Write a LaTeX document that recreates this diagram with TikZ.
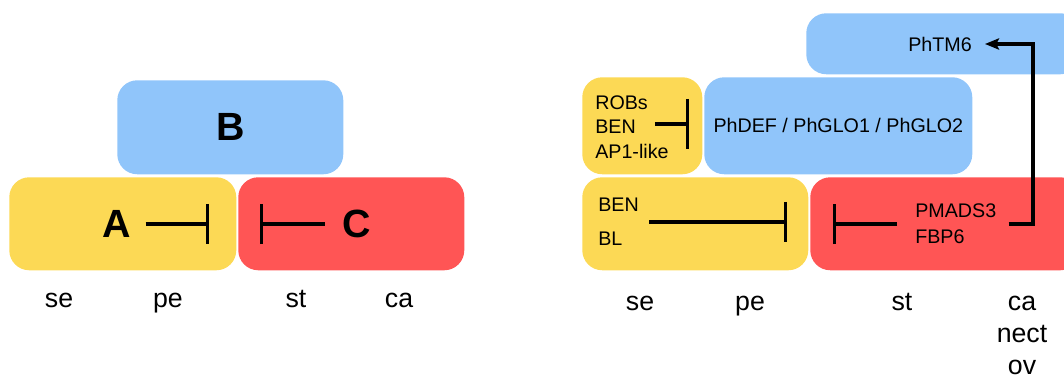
\documentclass[tikz,border=0pt]{standalone}
\usepackage{fontspec}
\setmainfont{Liberation Sans}
\usetikzlibrary{arrows.meta}
\definecolor{yel}{HTML}{FCD955}
\definecolor{blu}{HTML}{90C5FA}
\definecolor{rd}{HTML}{FF5555}
\def\pu{0.025cm}

\begin{document}
\begin{tikzpicture}[x=0.025cm, y=-0.025cm,
  box/.style 2 args={rounded corners=0.5cm, anchor=north west, inner sep=0pt,
    minimum width=#1*\pu, minimum height=#2*\pu},
  inh/.style={-{Bar[width=#1]}, line width=2.2pt},
  inh/.default=1cm,
  act/.style={-{Stealth[length=10pt, width=8pt, inset=2pt]}, line width=2.2pt},
  gene/.style={font=\fontsize{14}{17.4}\selectfont, inner sep=0pt},
  big/.style={font=\fontsize{28}{32}\selectfont\bfseries, inner sep=0pt},
  stage/.style={font=\fontsize{19}{23}\selectfont, anchor=base}]

\clip (0,0) rectangle (1064,379);

% left: ABC model
\node[box={226}{94}, fill=blu, big] (boxB) at (117,80) {B};
\node[box={227}{93}, fill=yel] (boxA) at (9,177) {};
\node[box={226}{93}, fill=rd] (boxC) at (238,177) {};

\node[big] (tA) at (117,224) {A};
\node[big] (tC) at (357,224) {C};
\coordinate (barA) at (209,224);
\coordinate (barC) at (260,224);
\draw[inh, shorten <=14*\pu] (tA.east) -- (barA);
\draw[inh, shorten <=18*\pu] (tC.west) -- (barC);

\foreach \t/\x in {se/59, pe/168, st/296, ca/399}
  \node[stage] (l\t) at (\x,308) {\t};

% right: petunia
\node[box={274}{61}, fill=blu] (boxTM6) at (806,13) {};
\node[box={120}{97}, fill=yel] (boxRob) at (582,77) {};
\node[box={268}{97}, fill=blu, gene] (boxDEF) at (704,77) {PhDEF / PhGLO1 / PhGLO2};
\node[box={226}{93}, fill=yel] (boxBen) at (582,177) {};
\node[box={270}{93}, fill=rd] (boxPM) at (810,177) {};

\node[gene] (tTM6) at (940,44) {PhTM6};
\node[gene, anchor=west, align=left] (tRob) at (595,127) {ROBs\\BEN\\AP1-like};
\node[gene, anchor=west, align=left, font=\fontsize{14}{24.1}\selectfont] (tBen) at (598,222) {BEN\\BL};
\node[gene, anchor=west, align=left, font=\fontsize{14}{18.4}\selectfont] (tPM) at (915,224) {PMADS3\\FBP6};

\coordinate (barRob) at (689,124);
\coordinate (barBen) at (787,222);
\coordinate (barPM) at (833,224);
\coordinate (turn) at (1033,44);

\draw[inh=1.25cm, shorten <=23*\pu] (tRob.center |- barRob) -- (barRob);
\draw[inh, shorten <=10*\pu] (tBen.east) -- (barBen);
\draw[inh, shorten <=18*\pu] (tPM.west) -- (barPM);
\draw[act, shorten <=12*\pu, shorten >=13*\pu] (tPM.east) -- (tPM.east -| turn) -- (turn) -- (tTM6.east);

\foreach \t/\x in {se/640, pe/750, st/902, ca/1022}
  \node[stage] (r\t) at (\x,311) {\t};
\node[stage] (rnect) at (1022,343) {nect};
\node[stage] (rov) at (1022,375) {ov};

\end{tikzpicture}
\end{document}
